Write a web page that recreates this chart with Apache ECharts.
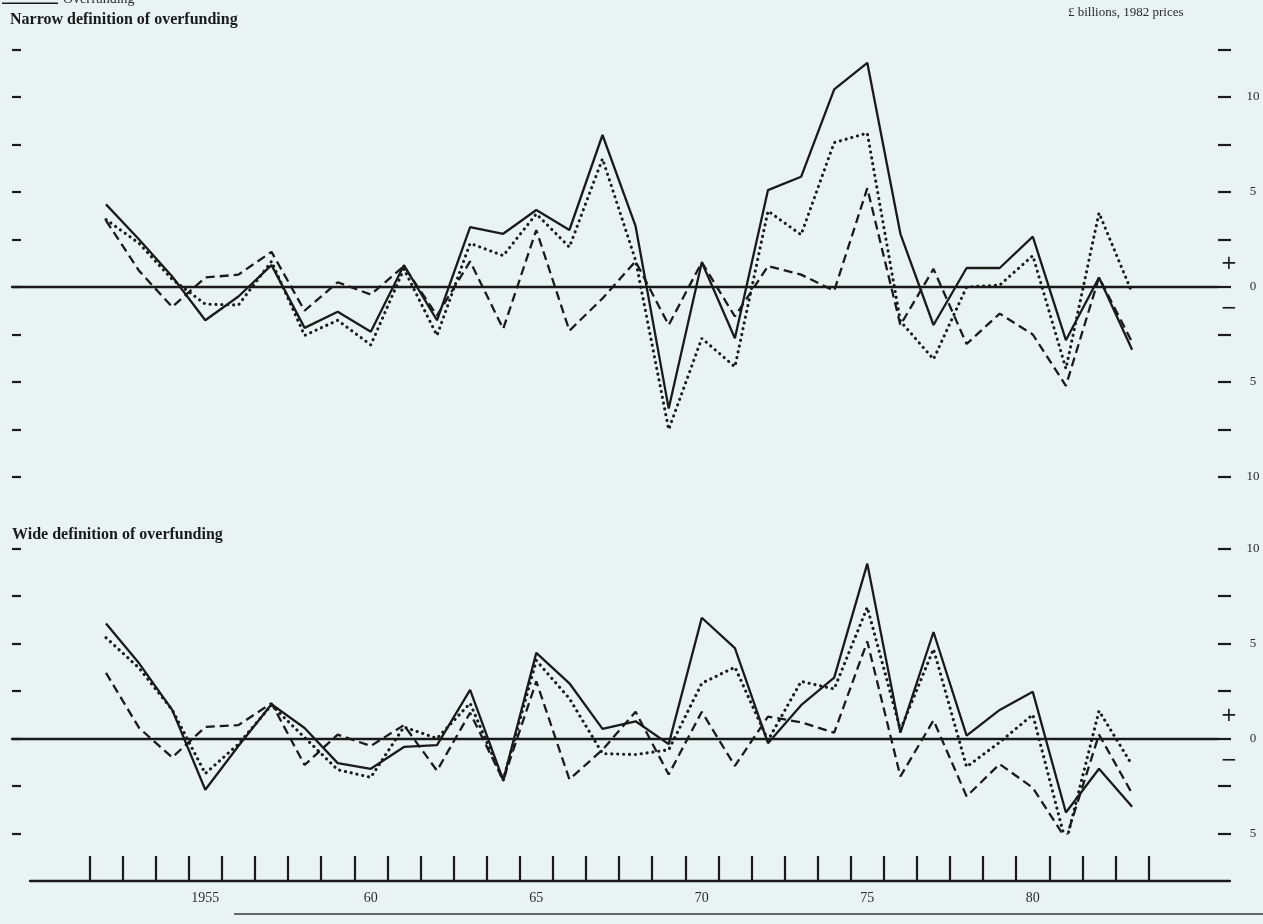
<!DOCTYPE html>
<html>
<head>
<meta charset="utf-8">
<title>Overfunding, narrow and wide definition</title>
<script src="https://cdn.jsdelivr.net/npm/echarts@6/dist/echarts.min.js"></script>
<style>
  html, body { margin: 0; padding: 0; background: #e9f3f3; }
  #chart { width: 1263px; height: 924px; }
</style>
</head>
<body>
<div id="chart"></div>
<script>
// years, one point per year
const years = [1952, 1953, 1954, 1955, 1956, 1957, 1958, 1959, 1960, 1961, 1962,
  1963, 1964, 1965, 1966, 1967, 1968, 1969, 1970, 1971, 1972, 1973, 1974, 1975,
  1976, 1977, 1978, 1979, 1980, 1981, 1982, 1983];

// narrow definition (£ billions, 1982 prices)
const narrowOverfunding = [4.35, 2.5, 0.55, -1.75, -0.5, 1.15, -2.15, -1.3, -2.35, 1.15, -1.75,
  3.15, 2.8, 4.05, 3.0, 8.0, 3.2, -6.4, 1.3, -2.7, 5.1, 5.8, 10.4, 11.8,
  2.8, -2.0, 1.0, 1.0, 2.65, -2.8, 0.5, -3.3];
const narrowDotted = [3.55, 2.3, 0.4, -0.9, -0.95, 1.35, -2.55, -1.75, -3.05, 0.95, -2.55,
  2.3, 1.65, 3.85, 2.1, 6.75, 1.4, -7.5, -2.7, -4.2, 4.0, 2.75, 7.6, 8.1,
  -1.8, -3.8, 0.0, 0.1, 1.65, -4.3, 3.9, -0.3];
const narrowDashed = [3.5, 0.85, -1.05, 0.5, 0.65, 1.85, -1.25, 0.25, -0.4, 1.1, -1.5,
  1.35, -2.2, 3.0, -2.3, -0.6, 1.35, -2.0, 1.3, -1.55, 1.1, 0.65, -0.2, 5.2,
  -2.0, 0.95, -3.0, -1.4, -2.5, -5.2, 0.5, -2.9];

// wide definition
const wideOverfunding = [6.05, 3.95, 1.5, -2.7, -0.4, 1.8, 0.55, -1.3, -1.6, -0.45, -0.35,
  2.55, -2.2, 4.5, 2.9, 0.5, 0.9, -0.3, 6.35, 4.75, -0.25, 1.75, 3.2, 9.2,
  0.3, 5.6, 0.15, 1.5, 2.45, -3.9, -1.6, -3.6];
const wideDotted = [5.3, 3.7, 1.5, -1.85, -0.3, 1.75, 0.05, -1.65, -2.05, 0.6, 0.0,
  1.85, -2.2, 4.1, 2.1, -0.8, -0.85, -0.6, 2.9, 3.75, -0.1, 3.0, 2.6, 6.9,
  0.45, 4.7, -1.5, -0.2, 1.25, -5.5, 1.45, -1.4];
const wideDashed = [3.45, 0.55, -1.0, 0.6, 0.7, 1.85, -1.4, 0.2, -0.4, 0.7, -1.7,
  1.35, -2.2, 3.0, -2.15, -0.6, 1.4, -1.9, 1.4, -1.45, 1.15, 0.85, 0.3, 5.1,
  -2.0, 0.95, -3.05, -1.35, -2.6, -5.3, 0.2, -2.9];

// time axis labels
const labelYears = [1955, 1960, 1965, 1970, 1975, 1980];
const labelTexts = ['1955', '60', '65', '70', '75', '80'];

const INK = '#1a1a1a';
const SERIF = '"Liberation Serif", "DejaVu Serif", serif';

// layout (px)
const X_FIRST = 106;    // where the first year sits
const X_STEP = 33.1;    // px per year
const PLOT_LEFT = 12;
const PLOT_RIGHT = 1218;
const UNIT = 19;        // px per £1bn
const NARROW_TOP = 49.5;
const WIDE_TOP = 548.4;
const NARROW_ZERO = NARROW_TOP + 12.5 * UNIT;
const WIDE_ZERO = WIDE_TOP + 10 * UNIT;

function yearAt(px) {
  return years[0] + (px - X_FIRST) / X_STEP;
}

function pairs(values) {
  return years.map((y, i) => [y, values[i]]);
}

function panelX(gridIndex) {
  return {
    type: 'value',
    gridIndex,
    min: yearAt(PLOT_LEFT),
    max: yearAt(PLOT_RIGHT),
    axisLine: { show: true, onZero: true, lineStyle: { color: INK, width: 2.3 } },
    axisTick: { show: false },
    axisLabel: { show: false },
    splitLine: { show: false }
  };
}

function panelY(gridIndex, side, min, max) {
  return {
    type: 'value',
    gridIndex,
    position: side,
    min,
    max,
    interval: 2.5,
    axisLine: { show: false },
    axisTick: {
      show: true,
      inside: side === 'left',
      length: side === 'left' ? 9 : 13,
      lineStyle: { color: INK, width: 2.2 }
    },
    axisLabel: {
      show: side === 'right',
      margin: 35,
      align: 'center',
      color: '#2a2a2a',
      fontFamily: SERIF,
      fontSize: 13,
      formatter: (v) => (v % 5 === 0 ? String(Math.abs(v)) : '')
    },
    splitLine: { show: false }
  };
}

function lineSeries(name, values, gridIndex, kind) {
  const style = { color: INK, width: 2.3 };
  if (kind === 'dotted') {
    style.type = [0.1, 5.8];
    style.cap = 'round';
    style.width = 3.1;
  } else if (kind === 'dashed') {
    style.type = [9, 5];
    style.width = 2.3;
  }
  return {
    name,
    type: 'line',
    xAxisIndex: gridIndex,
    yAxisIndex: gridIndex * 2,
    data: pairs(values),
    symbol: 'none',
    lineStyle: style,
    itemStyle: { color: INK },
    z: kind === 'solid' ? 4 : 3,
    animation: false
  };
}

function signText(y, text) {
  return {
    type: 'text',
    x: 1229,
    y,
    style: {
      text,
      fill: INK,
      font: '20px "DejaVu Sans", sans-serif',
      align: 'center',
      verticalAlign: 'middle'
    }
  };
}

const chart = echarts.init(document.getElementById('chart'));

chart.setOption({
  backgroundColor: '#e9f3f3',
  animation: false,
  title: [
    {
      text: 'Narrow definition of overfunding',
      left: 10, top: 12, padding: 0,
      textStyle: { fontFamily: SERIF, fontWeight: 'bold', fontSize: 16, color: INK }
    },
    {
      text: 'Wide definition of overfunding',
      left: 12, top: 527, padding: 0,
      textStyle: { fontFamily: SERIF, fontWeight: 'bold', fontSize: 16, color: INK }
    },
    {
      text: '£ billions, 1982 prices',
      left: 1068, top: 6, padding: 0,
      textStyle: { fontFamily: SERIF, fontWeight: 'normal', fontSize: 13, color: '#2a2a2a' }
    }
  ],
  // the key is cut off by the top edge, only its lowest line shows
  legend: {
    data: [{
      name: 'Overfunding',
      icon: 'path://M0,0L0.1,0L0.1,0.1Z M0,10.5L56,10.5L56,12L0,12Z M0,13.9L0.1,13.9L0.1,14Z'
    }],
    left: 2,
    top: -8,
    padding: 0,
    itemWidth: 56,
    itemHeight: 14,
    selectedMode: false,
    textStyle: { fontFamily: SERIF, fontSize: 14, color: '#2a2a2a' }
  },
  grid: [
    { left: PLOT_LEFT, top: NARROW_TOP, width: PLOT_RIGHT - PLOT_LEFT, height: 22.5 * UNIT },
    { left: PLOT_LEFT, top: WIDE_TOP, width: PLOT_RIGHT - PLOT_LEFT, height: 15 * UNIT },
    { left: 30, top: 850, width: 1200, height: 31 }
  ],
  xAxis: [
    panelX(0),
    panelX(1),
    {
      type: 'value',
      gridIndex: 2,
      position: 'bottom',
      min: yearAt(30),
      max: yearAt(1230),
      axisLine: { show: true, onZero: false, lineStyle: { color: INK, width: 2.3 } },
      axisTick: {
        show: true,
        inside: true,
        length: 25,
        customValues: years.map((y) => y - 0.5).concat([years[years.length - 1] + 0.5]),
        lineStyle: { color: INK, width: 2.2 }
      },
      axisLabel: {
        show: true,
        customValues: labelYears,
        margin: 10,
        color: '#2a2a2a',
        fontFamily: SERIF,
        fontSize: 14,
        formatter: (v) => labelTexts[labelYears.indexOf(v)]
      },
      splitLine: { show: false }
    }
  ],
  yAxis: [
    panelY(0, 'left', -10, 12.5),
    panelY(0, 'right', -10, 12.5),
    panelY(1, 'left', -5, 10),
    panelY(1, 'right', -5, 10),
    { type: 'value', gridIndex: 2, min: 0, max: 1, show: false }
  ],
  series: [
    lineSeries('Overfunding', narrowOverfunding, 0, 'solid'),
    lineSeries('Narrow, dotted', narrowDotted, 0, 'dotted'),
    lineSeries('Narrow, dashed', narrowDashed, 0, 'dashed'),
    lineSeries('Overfunding', wideOverfunding, 1, 'solid'),
    lineSeries('Wide, dotted', wideDotted, 1, 'dotted'),
    lineSeries('Wide, dashed', wideDashed, 1, 'dashed')
  ],
  graphic: [
    signText(NARROW_ZERO - 23, '+'),
    signText(NARROW_ZERO + 22, '\u2212'),
    signText(WIDE_ZERO - 23, '+'),
    signText(WIDE_ZERO + 22, '\u2212'),
    {
      type: 'line',
      shape: { x1: 234, y1: 914, x2: 1263, y2: 914 },
      style: { stroke: '#3a3a3a', lineWidth: 1.5 }
    }
  ]
});
</script>
</body>
</html>
